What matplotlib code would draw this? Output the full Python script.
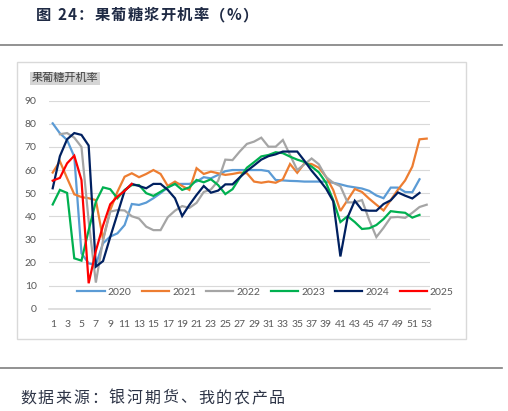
import numpy as np
import matplotlib
matplotlib.use("Agg")
from matplotlib import pyplot as plt
from matplotlib.patches import Rectangle
from matplotlib.lines import Line2D

plt.rcParams['font.family'] = ['Lato', 'Noto Sans CJK SC', 'DejaVu Sans']

nan = np.nan
weeks = list(range(1, 54))

# 开机率 (%) by week
y2020 = [80.2, 75.9, 73, 65.8, 24, 19.6, 19, 28.3, 31.2, 32.6, 36.2, 45.3, 44.9, 45.9, 47.8, 50,
         52.5, 54, 54, 54, 55, 56.9, 56.4, 57.9, 59.5, 60, 60, 60, 60, 60, 59.5, 55.7, 55.5, 55.3,
         55.2, 55, 55, 55, 55, 54.5, 53.8, 53, 52.5, 52, 51, 49, 47.8, 52.4, 52.4, 50.5, 50.4, 56, nan]
y2021 = [58.9, 63.8, 56.5, 49.5, 48.3, 47.8, 47, 30, 42.7, 50.6, 57.1, 58.6, 56.9, 58.3, 60, 58.3,
         53.1, 55, 53.1, 51.4, 60.8, 58.3, 59.3, 58.6, 57.9, 58.3, 58.9, 58.6, 55, 54.5, 55, 54.5,
         56, 62.6, 58.8, 62.9, 62.6, 61, 57.1, 51.4, 42.3, 47, 51.8, 50.5, 47.6, 45, 42.5, 47, 51.5,
         55.5, 61.5, 73.3, 73.6]
y2022 = [nan, 75.5, 76, 74, 70, 38, 11.3, 29.7, 42, 42.7, 42.5, 40, 39, 35.5, 34, 34, 39.6, 42.4,
         44.4, 43.6, 45.8, 50.5, 51.6, 55.3, 64.5, 64.3, 68, 71.3, 72.3, 74, 70.1, 70.1, 73, 66.5,
         60, 62.5, 65, 62.5, 57, 54.5, 53, 46, 46, 47, 38.4, 31, 35, 39.5, 39.7, 39.3, 41.5, 44, 45]
y2023 = [45.1, 51.4, 50.1, 21.8, 20.8, 34, 46.3, 52.5, 51.7, 47.8, 51.4, 53.5, 53.5, 50, 48.8,
         50.6, 52.5, 54, 51.4, 52.5, 55.7, 54.7, 56, 53.5, 49.6, 51.7, 56.6, 61, 63.4, 65.9, 66.5,
         67.7, 67.3, 65.8, 64.5, 63.5, 61.5, 59, 54.5, 47, 37.5, 40, 37.5, 34.5, 34.8, 36.2, 38.8,
         42.2, 41.8, 41.5, 39.4, 40.6, nan]
y2024 = [52.1, 66, 73.3, 76, 75.2, 70.6, 18.2, 20.6, 31, 41, 51, 54, 53.1, 52.1, 54, 54, 51.4,
         47.8, 40.1, 44.9, 49.2, 53.1, 50.2, 51.1, 53.8, 53.8, 56.8, 59.6, 62, 64.5, 66, 66.8, 68,
         68, 68, 64, 59.7, 56, 52, 46.5, 22.6, 39.5, 46.7, 42.7, 42.4, 42.4, 45.3, 46.9, 50.3, 48.9,
         47.7, 50.1, nan]
y2025 = [55.4, 56.6, 62.9, 66.2, 55.7, 11, 25, 36, 45.2, 48.5, 51, 54] + [nan] * 41

years = ['2020', '2021', '2022', '2023', '2024', '2025']
series = [y2020, y2021, y2022, y2023, y2024, y2025]
colors = ['#5B9BD5', '#ED7D31', '#A5A5A5', '#00B050', '#002060', '#FF0000']

W, H = 508, 411
fig = plt.figure(figsize=(W / 100, H / 100), dpi=100)
renderer = fig.canvas.get_renderer()
cjk = ['Noto Sans CJK SC', 'DejaVu Sans']


def spaced_text(x0, x1, y, s, **kw):
    # lay the characters out one by one so the line spans x0..x1 (pixels)
    parts = []
    natural = 0
    for ch in s:
        t = fig.text(0, 0, ch, **kw)
        w = t.get_window_extent(renderer).width
        t.remove()
        parts.append((ch, w))
        natural += w
    gap = (x1 - x0 - natural) / (len(s) - 1)
    x = x0
    for ch, w in parts:
        fig.text(x / W, 1 - y / H, ch, ha='left', va='center', **kw)
        x += w + gap


# outer decoration: title, rules, chart frame, source
spaced_text(36, 258, 15, '图 24：果葡糖浆开机率（%）', family=cjk, fontsize=11,
            fontweight='bold', color='#1f2a44')
fig.add_artist(Line2D([0, 502 / W], [1 - 44.7 / H] * 2, color='#7f7f7f', lw=1.2))
fig.add_artist(Line2D([0, 502 / W], [1 - 368.3 / H] * 2, color='#7f7f7f', lw=1.2))
fig.add_artist(Rectangle((17 / W, 1 - 339.3 / H), 448.5 / W, 277.6 / H, transform=fig.transFigure,
                         fill=False, edgecolor='#D9D9D9', lw=1))
spaced_text(20, 285, 398, '数据来源：银河期货、我的农产品', family=cjk, fontsize=11.5,
            color='#2e3547')
fig.text(31.7 / W, 1 - 78.3 / H, '果葡糖开机率', family=cjk,
         fontsize=8, color='#404040', ha='left', va='center',
         bbox=dict(boxstyle='square,pad=0.15', facecolor='#D5D5D5', edgecolor='none'))

ax = fig.add_axes([49.1 / W, 1 - 308.7 / H, 381.2 / W, 208 / H])
for yr, vals, c in zip(years, series, colors):
    ax.plot(weeks, vals, color=c, lw=1.6, label=yr, solid_joinstyle='miter')

ax.set_xlim(0.5, 53.5)
ax.set_ylim(0, 90)
ax.set_yticks(range(0, 91, 10))
ax.set_xticks(range(1, 54, 2))
ax.grid(axis='y', color='#D9D9D9', lw=0.8)
ax.set_axisbelow(True)
for s in ['top', 'right', 'left']:
    ax.spines[s].set_visible(False)
ax.spines['bottom'].set_color('#D9D9D9')
ax.spines['bottom'].set_linewidth(1.2)
ax.tick_params(axis='both', length=0, labelsize=7.5, labelcolor='#595959')
ax.tick_params(axis='y', pad=9)
ax.tick_params(axis='x', pad=8)

ax.legend(loc='center', bbox_to_anchor=(0.568, 0.079), ncol=6, frameon=False, fontsize=7.5,
          handlelength=2.6, handletextpad=0.3, columnspacing=1.0, labelcolor='#595959')

fig.savefig('out.png', dpi=100)
